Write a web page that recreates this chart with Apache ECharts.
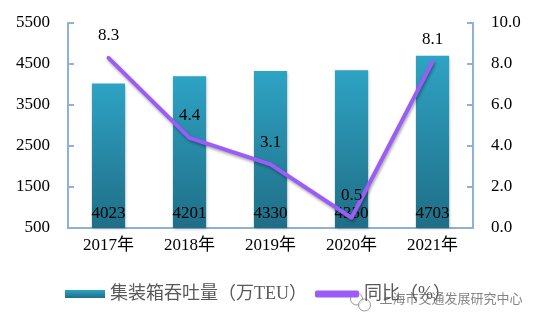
<!DOCTYPE html>
<html>
<head>
<meta charset="utf-8">
<script src="https://cdn.jsdelivr.net/npm/echarts@6/dist/echarts.min.js"></script>
<style>
  html, body { margin: 0; padding: 0; background: #fff; }
  #chart { width: 541px; height: 323px; }
</style>
</head>
<body>
<div id="chart"></div>
<script>
// Port container throughput (10k TEU) and year-on-year growth (%)
const years = ['2017年', '2018年', '2019年', '2020年', '2021年'];
const throughput = [4023, 4201, 4330, 4350, 4703];
const growth = [8.3, 4.4, 3.1, 0.5, 8.1];
const leftTicks = [500, 1500, 2500, 3500, 4500, 5500];

const serif = '"Liberation Serif", "Times New Roman", "Noto Sans CJK SC", serif';
const axisBlue = '#8FB0D9';

const chart = echarts.init(document.getElementById('chart'));

chart.setOption({
  animation: false,
  backgroundColor: '#ffffff',
  grid: { left: 68, right: 68, top: 23, bottom: 95 },
  legend: [
    {
      data: [{ name: '集装箱吞吐量（万TEU）', icon: 'rect' }],
      left: 60, top: 280, itemWidth: 40, itemHeight: 8, itemGap: 5,
      textStyle: { fontFamily: serif, fontSize: 18, color: '#595959' }
    },
    {
      data: [{ name: '同比（%）', icon: 'roundRect' }],
      left: 310, top: 280, itemWidth: 44, itemHeight: 7, itemGap: 5,
      textStyle: { fontFamily: serif, fontSize: 18, color: '#595959' }
    }
  ],
  xAxis: {
    type: 'category',
    data: years,
    axisLine: { lineStyle: { color: axisBlue, width: 2 } },
    axisTick: { show: false },
    axisLabel: { fontFamily: serif, fontSize: 17, color: '#000', margin: 9 }
  },
  yAxis: [
    {
      type: 'value',
      min: 500, max: 5500,
      splitLine: { show: false },
      axisLine: { show: true, lineStyle: { color: axisBlue, width: 2 } },
      axisTick: { show: true, inside: true, length: 6, customValues: leftTicks, lineStyle: { color: axisBlue, width: 2 } },
      axisLabel: {
        customValues: leftTicks, fontFamily: serif, fontSize: 17, color: '#000', margin: 18,
        formatter: v => String(v)
      }
    },
    {
      type: 'value',
      min: 0, max: 10, interval: 2,
      splitLine: { show: false },
      axisLine: { show: true, lineStyle: { color: axisBlue, width: 2 } },
      axisTick: { show: true, inside: true, length: 6, lineStyle: { color: axisBlue, width: 2 } },
      axisLabel: {
        fontFamily: serif, fontSize: 17, color: '#000', margin: 18,
        formatter: v => v.toFixed(1)
      }
    }
  ],
  series: [
    {
      name: '集装箱吞吐量（万TEU）',
      type: 'bar',
      data: throughput,
      barWidth: '41%',
      itemStyle: {
        color: new echarts.graphic.LinearGradient(0, 0, 0, 1, [
          { offset: 0, color: '#2EA3C4' },
          { offset: 1, color: '#1F6E86' }
        ]),
        shadowColor: 'rgba(0,0,0,0.25)', shadowBlur: 3, shadowOffsetX: 1, shadowOffsetY: 1
      },
      label: {
        show: true, position: 'insideBottom', distance: 6,
        fontFamily: serif, fontSize: 17, color: '#000'
      },
      z: 2
    },
    {
      name: '同比（%）',
      type: 'line',
      yAxisIndex: 1,
      data: growth,
      symbol: 'circle',
      symbolSize: 1,
      itemStyle: { color: '#9B5CF8' },
      lineStyle: {
        color: '#9B5CF8', width: 4, cap: 'round', join: 'round',
        shadowColor: 'rgba(0,0,0,0.35)', shadowBlur: 3, shadowOffsetX: 1, shadowOffsetY: 2
      },
      label: {
        show: true, position: 'top', distance: 13,
        fontFamily: serif, fontSize: 17, color: '#000'
      },
      z: 3
    }
  ],
  graphic: [
    {
      type: 'group', left: 350, top: 291,
      children: [
        { type: 'circle', shape: { cx: 8, cy: 7, r: 6 }, style: { fill: 'rgba(255,255,255,0.6)', stroke: '#999', lineWidth: 1 } },
        { type: 'circle', shape: { cx: 16, cy: 13, r: 6 }, style: { fill: 'rgba(255,255,255,0.6)', stroke: '#999', lineWidth: 1 } },
        {
          type: 'text', x: 31, y: 0,
          style: {
            text: '上海市交通发展研究中心',
            font: '13px "Noto Sans CJK SC", sans-serif',
            fill: 'rgba(110,110,110,0.85)',
            stroke: 'rgba(255,255,255,0.8)', lineWidth: 2
          }
        }
      ]
    }
  ]
});
</script>
</body>
</html>
